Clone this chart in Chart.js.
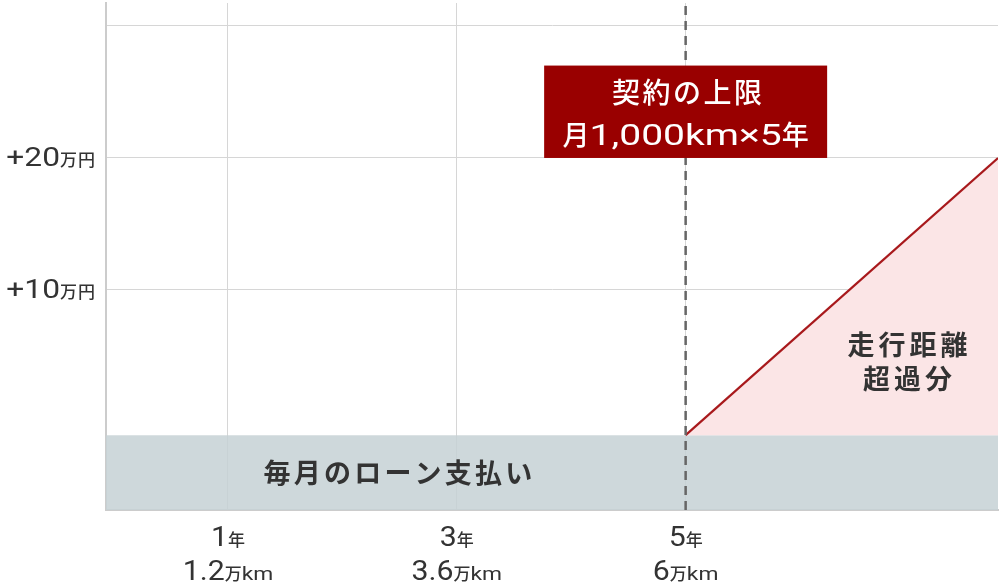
<!DOCTYPE html>
<html lang="ja">
<head>
<meta charset="utf-8">
<script src="https://cdn.jsdelivr.net/npm/chart.js@4.4.1/dist/chart.umd.min.js"></script>
<style>
    html, body { margin: 0; padding: 0; background: #fff; }
    #wrap { width: 1000px; height: 584px; }
</style>
</head>
<body>
<div id="wrap"><canvas id="loan-chart" width="1000" height="584"></canvas></div>
<script>
// axis ranges (years / 万円)
const xRange = [-0.066, 7.73];
const yRange = [-6.67, 31.74];

// ticks
const xTickValues = [1, 3, 5];
const xTickYears = ['1', '3', '5'];
const xTickKm = ['1.2', '3.6', '6'];
const yTickValues = [10, 20, 30];
const yTickLabels = ['+10', '+20', ''];

// series
const loanLevel = -1;                   // 毎月のローン支払い
const limitYear = 5;                    // 契約の上限
const overYears = [5, 7.73];            // 走行距離超過分
const overValues = [-1, 20];

// annotations
const limitBox = { x: 5, yFrom: 20, yTo: 27 };
const overLabel = { x: 6.94, y: [5.87, 3.3], lines: ['走行距離', '超過分'] };
const loanLabel = { x: 2.485, y: -3.83, text: '毎月のローン支払い' };

const JP = '"Noto Sans CJK JP", sans-serif';
const LAT = 'Roboto, "Noto Sans", sans-serif';

// draw a run of text pieces with different fonts, sx = horizontal stretch
function drawParts(ctx, parts, x, baseline, align) {
    let total = 0;
    parts.forEach(p => {
        ctx.font = p.font;
        ctx.letterSpacing = (p.ls || 0) + 'px';
        p.w = ctx.measureText(p.t).width * (p.sx || 1);
        total += p.w;
    });
    let cx = align === 'right' ? x - total : x - total / 2;
    parts.forEach(p => {
        ctx.font = p.font;
        ctx.letterSpacing = (p.ls || 0) + 'px';
        ctx.save();
        ctx.translate(cx, baseline);
        ctx.scale(p.sx || 1, 1);
        ctx.fillText(p.t, 0, 0);
        ctx.restore();
        cx += p.w;
    });
}

const labelsPlugin = {
    id: 'labels',
    afterDatasetsDraw(chart) {
        const ctx = chart.ctx;
        const xs = chart.scales.x;
        const ys = chart.scales.y;
        ctx.save();
        ctx.textBaseline = 'alphabetic';
        ctx.textAlign = 'left';

        // y tick labels
        ctx.fillStyle = '#333';
        yTickValues.forEach((v, i) => {
            if (!yTickLabels[i]) return;
            drawParts(ctx, [
                { t: yTickLabels[i], font: `400 26px ${LAT}`, sx: 1.22 },
                { t: '万円', font: `500 17px ${JP}`, ls: 1 }
            ], 96, ys.getPixelForValue(v) + 8, 'right');
        });

        // x tick labels
        const bottom = chart.chartArea.bottom;
        xTickValues.forEach((v, i) => {
            const px = xs.getPixelForValue(v);
            drawParts(ctx, [
                { t: xTickYears[i], font: `400 28px ${LAT}`, sx: 1.08 },
                { t: '年', font: `500 17px ${JP}` }
            ], px, bottom + 36, 'center');
            drawParts(ctx, [
                { t: xTickKm[i], font: `400 28px ${LAT}`, sx: 1.08 },
                { t: '万', font: `500 17px ${JP}` },
                { t: 'km', font: `400 19px ${LAT}`, sx: 1.2 }
            ], px, bottom + 70, 'center');
        });

        // limit box
        const bx = xs.getPixelForValue(limitBox.x);
        const bTop = ys.getPixelForValue(limitBox.yTo);
        const bBot = ys.getPixelForValue(limitBox.yFrom);
        ctx.fillStyle = '#990000';
        ctx.fillRect(bx - 141.5, bTop, 283, bBot - bTop);
        ctx.fillStyle = '#fff';
        drawParts(ctx, [{ t: '契約の上限', font: `500 28px ${JP}`, ls: 2.5 }], bx + 2.5, bTop + 37, 'center');
        drawParts(ctx, [
            { t: '月', font: `500 27px ${JP}` },
            { t: '1,000km×5', font: `400 30px ${LAT}`, sx: 1.3 },
            { t: '年', font: `500 27px ${JP}` }
        ], bx, bTop + 79, 'center');

        // over label
        ctx.fillStyle = '#333';
        ctx.textAlign = 'center';
        ctx.textBaseline = 'middle';
        ctx.font = `bold 27px ${JP}`;
        ctx.letterSpacing = '4px';
        overLabel.lines.forEach((t, i) => {
            ctx.fillText(t, xs.getPixelForValue(overLabel.x) + 2, ys.getPixelForValue(overLabel.y[i]));
        });

        // loan label
        ctx.font = `bold 27px ${JP}`;
        ctx.letterSpacing = '3.2px';
        ctx.fillText(loanLabel.text, xs.getPixelForValue(loanLabel.x) + 1.6, ys.getPixelForValue(loanLabel.y));
        ctx.restore();
    }
};

const ctx = document.getElementById('loan-chart').getContext('2d');

new Chart(ctx, {
    type: 'line',
    data: {
        datasets: [
            {
                label: 'limit',
                data: [{ x: limitYear, y: yRange[0] }, { x: limitYear, y: yRange[1] }],
                borderColor: '#666',
                borderWidth: 2.5,
                borderDash: [9, 6],
                pointRadius: 0,
                fill: false
            },
            {
                label: 'over',
                data: overYears.map((x, i) => ({ x: x, y: overValues[i] })),
                borderColor: '#a8191c',
                borderWidth: 2.2,
                backgroundColor: '#fbe5e6',
                pointRadius: 0,
                fill: { value: loanLevel }
            },
            {
                label: 'loan',
                data: [{ x: xRange[0], y: loanLevel }, { x: xRange[1], y: loanLevel }],
                borderWidth: 0,
                backgroundColor: 'rgba(198, 209, 213, 0.85)',
                pointRadius: 0,
                fill: 'start'
            }
        ]
    },
    options: {
        responsive: false,
        animation: false,
        devicePixelRatio: 1,
        layout: { padding: { top: 3, right: 2, left: 0, bottom: 0 } },
        plugins: {
            legend: { display: false },
            tooltip: { enabled: false }
        },
        scales: {
            x: {
                type: 'linear',
                min: xRange[0],
                max: xRange[1],
                afterBuildTicks: scale => { scale.ticks = xTickValues.map(v => ({ value: v })); },
                afterFit: scale => { scale.height = 74; },
                ticks: { display: false },
                grid: { color: '#d6d6d6', lineWidth: 1, drawTicks: false },
                border: { color: '#cccccc', width: 2 }
            },
            y: {
                type: 'linear',
                min: yRange[0],
                max: yRange[1],
                afterBuildTicks: scale => { scale.ticks = yTickValues.map(v => ({ value: v })); },
                afterFit: scale => { scale.width = 106; },
                ticks: { display: false },
                grid: { color: '#d6d6d6', lineWidth: 1, drawTicks: false },
                border: { color: '#cccccc', width: 2 }
            }
        }
    },
    plugins: [labelsPlugin]
});
</script>
</body>
</html>
